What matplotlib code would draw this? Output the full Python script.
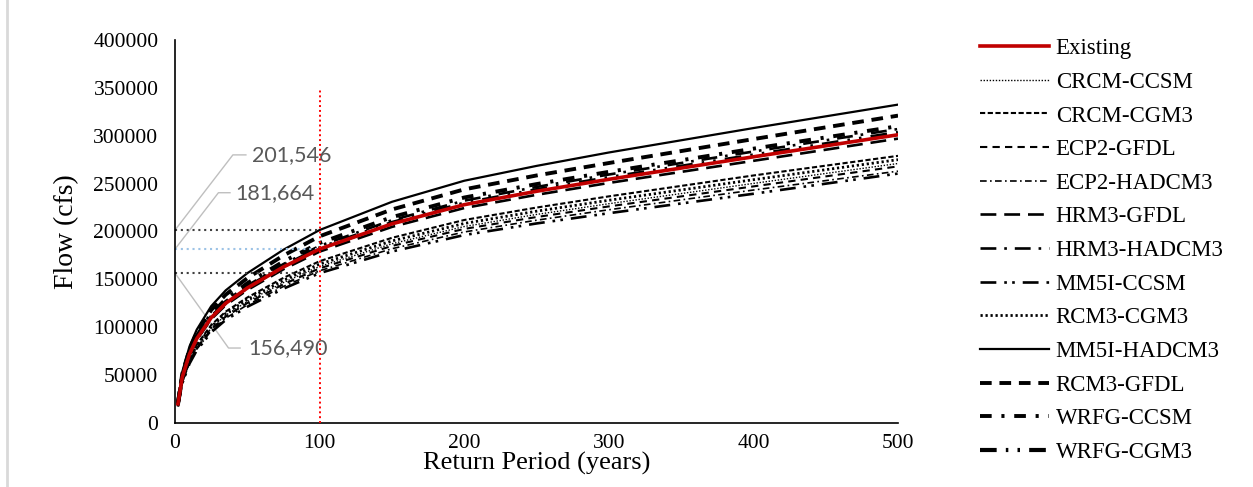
#!/usr/bin/env python3
import matplotlib

matplotlib.use("Agg")
import matplotlib.pyplot as plt
from matplotlib.lines import Line2D

return_period = [2, 5, 10, 15, 25, 35, 50, 75, 100, 150, 200, 250, 300, 400, 500]

existing = [20000, 48000, 72000, 88000, 110000, 125000, 141000, 163000, 181664,
            208000, 228000, 242000, 254500, 278000, 301000]

crcm_ccsm = [18000, 43200, 64800, 79200, 99000, 112500, 126900, 146700, 163500,
             187200, 205200, 217800, 229000, 250200, 271000]
crcm_cgm3 = [18600, 44600, 67000, 81800, 102300, 116300, 131100, 151600, 169000,
             193400, 212000, 225000, 236700, 258500, 279000]
ecp2_gfdl = [17800, 42700, 64000, 78200, 97800, 111100, 125300, 144900, 161500,
             184900, 202700, 215100, 226200, 247100, 268000]
ecp2_hadcm3 = [17500, 42000, 63000, 77000, 96300, 109400, 123400, 142600, 159000,
               182000, 199500, 211800, 222700, 243300, 263000]
hrm3_gfdl = [19700, 47300, 70900, 86700, 108400, 123100, 138900, 160600, 179000,
             204800, 224500, 238300, 250700, 273800, 297000]
hrm3_hadcm3 = [20300, 48900, 73300, 89600, 112000, 127300, 143500, 166000, 185000,
               211800, 232200, 246500, 259500, 283500, 307000]
mm5i_ccsm = [17200, 41300, 62000, 75800, 94700, 107600, 121400, 140300, 156490,
             179100, 196300, 208400, 219100, 239400, 260500]
rcm3_cgm3 = [18300, 43900, 65800, 80400, 100500, 114300, 128900, 149000, 166000,
             190100, 208400, 221200, 232600, 254100, 275000]
mm5i_hadcm3 = [21500, 53500, 80000, 97500, 122000, 138500, 156500, 181000, 201546,
               231000, 253000, 268500, 282500, 308000, 332500]
rcm3_gfdl = [21000, 51500, 77000, 94300, 118000, 134000, 151300, 175000, 195000,
             223000, 244000, 258500, 271500, 296500, 321000]
wrfg_ccsm = [20500, 49700, 74500, 91000, 113800, 129300, 146000, 168700, 188000,
             215000, 235500, 249500, 262300, 286500, 310000]
wrfg_cgm3 = [20100, 48200, 72400, 88400, 110500, 125600, 141700, 163800, 182500,
             209000, 229200, 243300, 256000, 279500, 303000]

scenario_names = [
    "CRCM-CCSM", "CRCM-CGM3", "ECP2-GFDL", "ECP2-HADCM3", "HRM3-GFDL", "HRM3-HADCM3",
    "MM5I-CCSM", "RCM3-CGM3", "MM5I-HADCM3", "RCM3-GFDL", "WRFG-CCSM", "WRFG-CGM3",
]
scenario_values = [
    crcm_ccsm, crcm_cgm3, ecp2_gfdl, ecp2_hadcm3, hrm3_gfdl, hrm3_hadcm3,
    mm5i_ccsm, rcm3_cgm3, mm5i_hadcm3, rcm3_gfdl, wrfg_ccsm, wrfg_cgm3,
]

# Highlighted flows at the 100-year event
design_period = 100
flow_high = 201546
flow_existing = 181664
flow_low = 156490

y_ticks = [0, 50000, 100000, 150000, 200000, 250000, 300000, 350000, 400000]
x_ticks = [0, 100, 200, 300, 400, 500]

# (linewidth, dash pattern) per scenario
styles = {
    "CRCM-CCSM": (1.0, (0, (1, 1.2))),
    "CRCM-CGM3": (1.5, (0, (2.5, 1.2))),
    "ECP2-GFDL": (1.5, (0, (3.5, 2.5))),
    "ECP2-HADCM3": (1.2, (0, (4, 2, 1, 2))),
    "HRM3-GFDL": (1.9, (0, (6, 3))),
    "HRM3-HADCM3": (1.9, (0, (6, 3, 1, 3))),
    "MM5I-CCSM": (1.9, (0, (6, 3, 1, 2, 1, 3))),
    "RCM3-CGM3": (2.0, (0, (0.8, 1.0))),
    "MM5I-HADCM3": (1.6, "solid"),
    "RCM3-GFDL": (2.8, (0, (3, 2))),
    "WRFG-CCSM": (2.8, (0, (3, 2.5, 0.8, 2.5))),
    "WRFG-CGM3": (3.0, (0, (4, 2.2, 0.6, 2.2, 0.6, 2.2))),
}


def main() -> None:
    plt.rcParams.update(
        {
            "font.family": ["Liberation Serif", "DejaVu Serif"],
            "axes.spines.top": False,
            "axes.spines.right": False,
        }
    )

    fig = plt.figure(figsize=(12.53, 4.87), dpi=100)
    ax = fig.add_axes([0.1397, 0.1314, 0.577, 0.7865])

    handles = []
    for name, vals in zip(scenario_names, scenario_values):
        lw, ls = styles[name]
        ax.plot(return_period, vals, color="black", lw=lw, linestyle=ls)
        handles.append(Line2D([], [], color="black", lw=lw, linestyle=ls, label=name))

    ax.plot(return_period, existing, color="#C00000", lw=2.6, zorder=5)
    handles.insert(0, Line2D([], [], color="#C00000", lw=2.6, label="Existing"))

    # 100-year reference lines
    ax.plot([design_period, design_period], [0, 350000], color="#FF0000", lw=1.4,
            linestyle=(0, (1, 1.5)), zorder=6)
    ax.plot([0, design_period], [flow_high, flow_high], color="#404040", lw=1.5,
            linestyle=(0, (1, 1.8)))
    ax.plot([0, design_period], [flow_existing, flow_existing], color="#9DC3E6", lw=1.5,
            linestyle=(0, (1, 1.8)))
    ax.plot([0, design_period], [flow_low, flow_low], color="#404040", lw=1.5,
            linestyle=(0, (1, 1.8)))

    # Data callouts with leader lines
    callouts = [
        (flow_high, 40, 49, 280000, 53),
        (flow_existing, 30, 38, 240500, 41.5),
        (flow_low, 37, 45, 78300, 51),
    ]
    for val, x_elbow, x_end, y_lab, x_text in callouts:
        ax.plot([0, x_elbow, x_end], [val, y_lab, y_lab], color="#BFBFBF", lw=1.0,
                clip_on=False, zorder=1)
        ax.text(x_text, y_lab, f"{val:,}", fontsize=15.5, color="#595959",
                family=["Lato", "DejaVu Sans"], va="center", ha="left")

    ax.set_xlim(0, 500)
    ax.set_ylim(0, 400000)
    ax.set_xticks(x_ticks)
    ax.set_yticks(y_ticks)
    ax.tick_params(axis="both", length=0, labelsize=15.5)
    ax.tick_params(axis="y", pad=12)
    ax.tick_params(axis="x", pad=8)
    ax.spines["left"].set_linewidth(1.2)
    ax.spines["bottom"].set_linewidth(1.2)
    ax.set_ylabel("Flow (cfs)", fontsize=20, labelpad=10)
    ax.set_xlabel("Return Period (years)", fontsize=19, labelpad=-1)

    fig.legend(
        handles=handles,
        loc="upper left",
        bbox_to_anchor=(971 / 1253, 1 - 29 / 487),
        frameon=False,
        fontsize=16.5,
        handlelength=3.0,
        handletextpad=0.3,
        labelspacing=0.55,
        borderaxespad=0,
    )

    # screenshot border on the left edge
    fig.add_artist(Line2D([7 / 1253, 7 / 1253], [0, 1], color="#D9D9D9", lw=2))

    fig.savefig("out.png", dpi=100)
    plt.close(fig)


if __name__ == "__main__":
    main()
